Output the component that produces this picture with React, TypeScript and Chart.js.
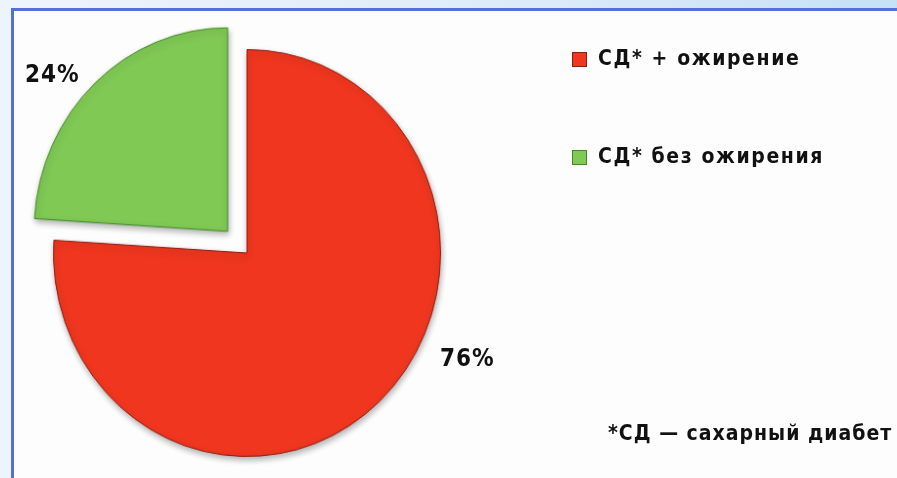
import React, { useEffect, useRef } from "react";
import { Chart, registerables } from "chart.js";

Chart.register(...registerables);

const categories = ["СД* + ожирение", "СД* без ожирения"];
const values = [76, 24];
const colors = ["#f0361f", "#80c955"];
const borderColors = ["#8e1c10", "#3f8a24"];
const offsets = [0, 116];
const footnote = "*СД — сахарный диабет";

const FONT = '"DejaVu Sans Condensed", "DejaVu Sans", sans-serif';

const shadowPlugin = {
  id: "shadow",
  beforeDatasetsDraw(chart: any) {
    const ctx = chart.ctx;
    ctx.save();
    ctx.shadowColor = "rgba(0,0,0,0.3)";
    ctx.shadowBlur = 6;
    ctx.shadowOffsetX = 1;
    ctx.shadowOffsetY = 3;
  },
  afterDatasetsDraw(chart: any) {
    chart.ctx.restore();
  },
};

export default function App() {
  const ref = useRef<HTMLCanvasElement | null>(null);
  useEffect(() => {
    document.body.style.margin = "0";
    const chart = new Chart(ref.current as HTMLCanvasElement, {
      type: "pie",
      data: {
        labels: categories,
        datasets: [
          {
            data: values,
            backgroundColor: colors,
            borderColor: borderColors,
            borderWidth: 1,
            offset: offsets,
            clip: false as any,
          },
        ],
      },
      options: {
        animation: false,
        responsive: false,
        maintainAspectRatio: false,
        layout: { padding: { left: 30, top: 36, right: 393, bottom: 10 } },
        plugins: { legend: { display: false }, tooltip: { enabled: false } },
      },
      plugins: [shadowPlugin],
    });
    return () => chart.destroy();
  }, []);

  const textStyle: React.CSSProperties = {
    position: "absolute",
    fontFamily: FONT,
    color: "#111",
    whiteSpace: "nowrap",
    lineHeight: 1,
  };

  return (
    <div
      style={{
        position: "fixed",
        left: 0,
        top: 0,
        width: 897,
        height: 478,
        overflow: "hidden",
        background: "linear-gradient(90deg, #eef4fc 0%, #dcebf9 60%, #c4e1f6 100%)",
      }}
    >
      <div
        style={{
          position: "absolute",
          left: 11,
          top: 8,
          width: 900,
          height: 480,
          borderLeft: "3px solid #5570d4",
          borderTop: "3px solid #5570d4",
          background: "#fdfdfd",
        }}
      />
      <div
        style={{
          position: "absolute",
          left: -40,
          top: -40,
          width: 937,
          height: 560,
          transform: "scale(0.975, 1.025)",
          transformOrigin: "287px 293px",
        }}
      >
        <canvas ref={ref} width={937} height={560} style={{ display: "block", width: 937, height: 560 }} />
      </div>
      <div style={{ ...textStyle, left: 25, top: 62, fontSize: 24, fontWeight: 700, letterSpacing: 1 }}>{values[1]}%</div>
      <div style={{ ...textStyle, left: 440, top: 346, fontSize: 24, fontWeight: 700, letterSpacing: 1 }}>{values[0]}%</div>
      {categories.map((c, i) => (
        <React.Fragment key={c}>
          <div
            style={{
              position: "absolute",
              left: 572,
              top: i === 0 ? 52 : 150,
              width: 13,
              height: 13,
              background: colors[i],
              border: `1px solid ${borderColors[i]}`,
            }}
          />
          <div style={{ ...textStyle, left: 598, top: i === 0 ? 48 : 146, fontSize: 21, fontWeight: 700, letterSpacing: 1.6 }}>{c}</div>
        </React.Fragment>
      ))}
      <div style={{ ...textStyle, left: 608, top: 423, fontSize: 21, fontWeight: 700, letterSpacing: 1 }}>{footnote}</div>
    </div>
  );
}
